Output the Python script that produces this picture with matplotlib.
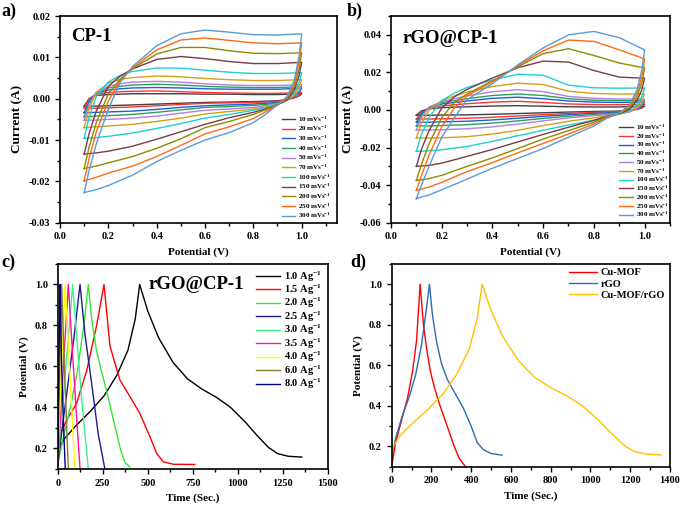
import matplotlib
matplotlib.use('Agg')
import matplotlib.pyplot as plt
from matplotlib.ticker import MultipleLocator, FormatStrFormatter

plt.rcParams['font.family'] = 'serif'
plt.rcParams['font.serif'] = ['Liberation Serif', 'DejaVu Serif']
plt.rcParams['font.weight'] = 'bold'
plt.rcParams['axes.labelweight'] = 'bold'
plt.rcParams['mathtext.fontset'] = 'custom'
plt.rcParams['mathtext.rm'] = 'Liberation Serif:bold'
plt.rcParams['mathtext.it'] = 'Liberation Serif:bold'
plt.rcParams['mathtext.bf'] = 'Liberation Serif:bold'
plt.rcParams['axes.unicode_minus'] = False

# ---------------- CV data (panels a, b) ----------------
scan_rates = [10, 20, 30, 40, 50, 70, 100, 150, 200, 250, 300]
cv_colors = ['#404040', '#ff3333', '#1f5fd6', '#2ca05a', '#b57ee0', '#d4a017',
             '#1fd0d0', '#7a3b4a', '#8c8c00', '#ff6a13', '#5b9bd5']

# forward (anodic) sweep potentials and backward (cathodic) sweep potentials
v_fwd = [0.1, 0.12, 0.15, 0.2, 0.25, 0.3, 0.4, 0.5, 0.6, 0.7, 0.8, 0.9, 1.0]
v_back = [1.0, 0.99, 0.97, 0.94, 0.9, 0.85, 0.8, 0.7, 0.6, 0.5, 0.4, 0.3, 0.2, 0.15, 0.1]

# CP-1, current (A)
cp1_fwd = [
    [-0.0018, 0.0000, 0.0008, 0.0010, 0.0011, 0.0012, 0.0012, 0.0012, 0.0011, 0.0011, 0.0010, 0.0010, 0.0012],
    [-0.0023, 0.0000, 0.0011, 0.0015, 0.0017, 0.0018, 0.0019, 0.0017, 0.0015, 0.0014, 0.0013, 0.0013, 0.0015],
    [-0.0034, -0.0005, 0.0013, 0.0021, 0.0024, 0.0026, 0.0027, 0.0026, 0.0024, 0.0023, 0.0023, 0.0023, 0.0025],
    [-0.0044, -0.0010, 0.0015, 0.0026, 0.0030, 0.0033, 0.0035, 0.0033, 0.0030, 0.0028, 0.0027, 0.0027, 0.0029],
    [-0.0052, -0.0015, 0.0015, 0.0030, 0.0036, 0.0040, 0.0042, 0.0040, 0.0036, 0.0033, 0.0032, 0.0032, 0.0034],
    [-0.0070, -0.0025, 0.0015, 0.0038, 0.0047, 0.0051, 0.0055, 0.0053, 0.0049, 0.0046, 0.0044, 0.0044, 0.0046],
    [-0.0096, -0.0045, 0.0005, 0.0040, 0.0057, 0.0066, 0.0074, 0.0074, 0.0069, 0.0064, 0.0061, 0.0061, 0.0063],
    [-0.0134, -0.0085, -0.0030, 0.0030, 0.0055, 0.0072, 0.0095, 0.0102, 0.0097, 0.0090, 0.0085, 0.0085, 0.0088],
    [-0.0169, -0.0118, -0.0058, 0.0012, 0.0048, 0.0073, 0.0108, 0.0124, 0.0124, 0.0116, 0.0110, 0.0109, 0.0111],
    [-0.0199, -0.0145, -0.0080, -0.0005, 0.0045, 0.0075, 0.0118, 0.0142, 0.0147, 0.0141, 0.0135, 0.0133, 0.0135],
    [-0.0227, -0.0175, -0.0110, -0.0025, 0.0040, 0.0078, 0.0128, 0.0157, 0.0166, 0.0161, 0.0155, 0.0154, 0.0157],
]
cp1_back = [
    [0.0012, 0.0007, 0.0002, -0.0002, -0.0005, -0.0006, -0.0007, -0.0008, -0.0009, -0.0011, -0.0013, -0.0015, -0.0017, -0.0018, -0.0018],
    [0.0015, 0.0009, 0.0003, -0.0002, -0.0006, -0.0008, -0.0009, -0.0010, -0.0011, -0.0014, -0.0017, -0.0020, -0.0022, -0.0023, -0.0023],
    [0.0025, 0.0016, 0.0006, -0.0003, -0.0009, -0.0011, -0.0013, -0.0015, -0.0017, -0.0021, -0.0026, -0.0030, -0.0032, -0.0033, -0.0034],
    [0.0029, 0.0018, 0.0007, -0.0003, -0.0011, -0.0014, -0.0016, -0.0019, -0.0021, -0.0027, -0.0033, -0.0038, -0.0041, -0.0042, -0.0044],
    [0.0034, 0.0021, 0.0008, -0.0003, -0.0012, -0.0017, -0.0021, -0.0025, -0.0028, -0.0035, -0.0042, -0.0047, -0.0050, -0.0052, -0.0052],
    [0.0046, 0.0029, 0.0011, -0.0004, -0.0013, -0.0020, -0.0025, -0.0031, -0.0037, -0.0047, -0.0055, -0.0062, -0.0066, -0.0068, -0.0070],
    [0.0063, 0.0040, 0.0015, -0.0003, -0.0014, -0.0022, -0.0028, -0.0038, -0.0047, -0.0060, -0.0072, -0.0083, -0.0091, -0.0094, -0.0096],
    [0.0088, 0.0057, 0.0022, -0.0003, -0.0015, -0.0025, -0.0033, -0.0046, -0.0062, -0.0080, -0.0098, -0.0115, -0.0127, -0.0131, -0.0134],
    [0.0111, 0.0073, 0.0029, 0.0000, -0.0015, -0.0027, -0.0038, -0.0055, -0.0070, -0.0097, -0.0120, -0.0140, -0.0155, -0.0163, -0.0169],
    [0.0135, 0.0090, 0.0038, 0.0003, -0.0015, -0.0032, -0.0048, -0.0068, -0.0085, -0.0113, -0.0140, -0.0163, -0.0180, -0.0190, -0.0199],
    [0.0157, 0.0105, 0.0045, 0.0006, -0.0015, -0.0038, -0.0058, -0.0082, -0.0100, -0.0125, -0.0152, -0.0185, -0.0210, -0.0220, -0.0227],
]

# rGO@CP-1, current (A)
rgo_fwd = [
    [-0.0028, -0.0005, 0.0006, 0.0012, 0.0015, 0.0017, 0.0021, 0.0023, 0.0020, 0.0017, 0.0016, 0.0016, 0.0020],
    [-0.0048, -0.0012, 0.0010, 0.0022, 0.0028, 0.0033, 0.0042, 0.0046, 0.0040, 0.0032, 0.0029, 0.0028, 0.0030],
    [-0.0065, -0.0020, 0.0012, 0.0032, 0.0040, 0.0048, 0.0062, 0.0068, 0.0060, 0.0048, 0.0042, 0.0040, 0.0042],
    [-0.0085, -0.0030, 0.0015, 0.0040, 0.0050, 0.0060, 0.0077, 0.0085, 0.0077, 0.0060, 0.0052, 0.0050, 0.0050],
    [-0.0107, -0.0040, 0.0015, 0.0045, 0.0060, 0.0075, 0.0097, 0.0108, 0.0098, 0.0072, 0.0062, 0.0058, 0.0058],
    [-0.0149, -0.0070, 0.0000, 0.0050, 0.0075, 0.0095, 0.0125, 0.0143, 0.0135, 0.0100, 0.0088, 0.0085, 0.0085],
    [-0.0220, -0.0130, -0.0040, 0.0050, 0.0090, 0.0120, 0.0160, 0.0190, 0.0185, 0.0132, 0.0118, 0.0116, 0.0117],
    [-0.0300, -0.0210, -0.0110, 0.0010, 0.0070, 0.0110, 0.0170, 0.0225, 0.0260, 0.0255, 0.0210, 0.0175, 0.0169],
    [-0.0375, -0.0290, -0.0180, -0.0040, 0.0040, 0.0085, 0.0155, 0.0230, 0.0300, 0.0326, 0.0290, 0.0250, 0.0224],
    [-0.0428, -0.0350, -0.0240, -0.0090, 0.0010, 0.0075, 0.0150, 0.0235, 0.0315, 0.0372, 0.0365, 0.0320, 0.0272],
    [-0.0472, -0.0400, -0.0300, -0.0145, -0.0040, 0.0055, 0.0140, 0.0240, 0.0330, 0.0400, 0.0418, 0.0385, 0.0320],
]
rgo_back = [
    [0.0020, 0.0011, 0.0003, -0.0003, -0.0006, -0.0007, -0.0008, -0.0011, -0.0015, -0.0019, -0.0023, -0.0026, -0.0027, -0.0028, -0.0028],
    [0.0030, 0.0017, 0.0005, -0.0004, -0.0008, -0.0010, -0.0013, -0.0018, -0.0025, -0.0032, -0.0039, -0.0044, -0.0047, -0.0048, -0.0048],
    [0.0042, 0.0024, 0.0007, -0.0006, -0.0012, -0.0015, -0.0018, -0.0025, -0.0034, -0.0044, -0.0053, -0.0060, -0.0063, -0.0065, -0.0065],
    [0.0050, 0.0029, 0.0008, -0.0008, -0.0016, -0.0020, -0.0024, -0.0033, -0.0045, -0.0058, -0.0070, -0.0078, -0.0083, -0.0085, -0.0085],
    [0.0058, 0.0033, 0.0008, -0.0011, -0.0020, -0.0025, -0.0030, -0.0042, -0.0058, -0.0075, -0.0090, -0.0100, -0.0105, -0.0107, -0.0107],
    [0.0085, 0.0052, 0.0017, -0.0009, -0.0023, -0.0030, -0.0042, -0.0060, -0.0083, -0.0108, -0.0128, -0.0142, -0.0148, -0.0149, -0.0149],
    [0.0117, 0.0074, 0.0029, -0.0004, -0.0022, -0.0035, -0.0055, -0.0080, -0.0108, -0.0137, -0.0167, -0.0194, -0.0212, -0.0217, -0.0220],
    [0.0169, 0.0111, 0.0049, 0.0004, -0.0021, -0.0035, -0.0055, -0.0092, -0.0130, -0.0170, -0.0210, -0.0247, -0.0283, -0.0295, -0.0300],
    [0.0224, 0.0149, 0.0070, 0.0012, -0.0020, -0.0038, -0.0065, -0.0110, -0.0155, -0.0205, -0.0255, -0.0300, -0.0348, -0.0365, -0.0375],
    [0.0272, 0.0180, 0.0088, 0.0020, -0.0019, -0.0040, -0.0075, -0.0128, -0.0178, -0.0228, -0.0280, -0.0328, -0.0385, -0.0410, -0.0428],
    [0.0320, 0.0217, 0.0106, 0.0027, -0.0018, -0.0045, -0.0085, -0.0145, -0.0205, -0.0258, -0.0310, -0.0368, -0.0425, -0.0452, -0.0472],
]

# ---------------- GCD data (panel c) ----------------
densities = ['1.0', '1.5', '2.0', '2.5', '3.0', '3.5', '4.0', '6.0', '8.0']
gcd_colors = ['#000000', '#ff0000', '#33e633', '#1c1c8f', '#3cf08a', '#ff1493',
              '#ffff00', '#8b7a2b', '#000080']
gcd_time = [
    [0, 8, 40, 100, 180, 260, 330, 390, 430, 455, 500, 560, 640, 720, 800, 880, 960,
     1040, 1110, 1170, 1220, 1280, 1355],
    [0, 20, 50, 105, 161, 216, 257, 290, 345, 401, 456, 512, 549, 586, 641, 761],
    [0, 30, 70, 110, 145, 170, 190, 215, 245, 280, 320, 350, 375, 400],
    [0, 25, 55, 90, 124, 151, 188, 225, 262],
    [0, 20, 45, 65, 83, 105, 135, 170],
    [0, 15, 35, 59, 80, 105, 124],
    [0, 12, 27, 41, 60, 80, 96],
    [0, 8, 16, 22, 35, 50, 59],
    [0, 5, 10, 13, 22, 33, 42],
]
gcd_volt = [
    [0.15, 0.2, 0.25, 0.31, 0.38, 0.46, 0.56, 0.68, 0.83, 1.0, 0.87, 0.74, 0.62, 0.54,
     0.49, 0.45, 0.40, 0.33, 0.26, 0.205, 0.175, 0.162, 0.158],
    [0.12, 0.28, 0.34, 0.42, 0.58, 0.80, 1.0, 0.70, 0.535, 0.453, 0.371, 0.257, 0.176,
     0.135, 0.123, 0.122],
    [0.12, 0.25, 0.40, 0.58, 0.80, 1.0, 0.82, 0.68, 0.57, 0.45, 0.30, 0.19, 0.13, 0.11],
    [0.12, 0.30, 0.50, 0.74, 1.0, 0.76, 0.52, 0.27, 0.10],
    [0.12, 0.35, 0.60, 0.80, 1.0, 0.75, 0.42, 0.10],
    [0.12, 0.35, 0.65, 1.0, 0.70, 0.35, 0.10],
    [0.15, 0.40, 0.70, 1.0, 0.70, 0.35, 0.10],
    [0.15, 0.45, 0.75, 1.0, 0.65, 0.30, 0.10],
    [0.20, 0.50, 0.80, 1.0, 0.60, 0.30, 0.10],
]

# ---------------- GCD comparison (panel d) ----------------
cmp_labels = ['Cu-MOF', 'rGO', 'Cu-MOF/rGO']
cmp_colors = ['#ff0000', '#2e6bb0', '#ffc000']
cumof_t = [0, 20, 50, 80, 105, 125, 143, 160, 176, 195, 215, 240, 265, 290, 315, 340, 372]
cumof_v = [0.1, 0.22, 0.33, 0.44, 0.57, 0.72, 1.0, 0.80, 0.68, 0.57, 0.49, 0.41, 0.34,
           0.27, 0.20, 0.14, 0.10]
rgo_t = [0, 20, 50, 90, 120, 150, 175, 190, 205, 225, 250, 280, 320, 360, 400, 430, 460,
         500, 555]
rgo_v = [0.15, 0.24, 0.34, 0.45, 0.55, 0.70, 0.88, 1.0, 0.85, 0.72, 0.61, 0.53, 0.46,
         0.39, 0.30, 0.22, 0.185, 0.165, 0.157]
comp_t = gcd_time[0]
comp_v = gcd_volt[0]

fig = plt.figure(figsize=(6.82, 5.07), dpi=100)
ax_a = fig.add_axes([0.088, 0.5607, 0.4057, 0.4077])
ax_b = fig.add_axes([0.5733, 0.5607, 0.409, 0.4077])
ax_c = fig.add_axes([0.0846, 0.075, 0.3963, 0.4043])
ax_d = fig.add_axes([0.5743, 0.0795, 0.408, 0.40])


def style(ax):
    for s in ax.spines.values():
        s.set_linewidth(1.2)
    ax.tick_params(which='both', direction='out', top=False, right=False,
                   labelsize=7.5, width=1.0)
    ax.tick_params(which='major', length=3.5)
    ax.tick_params(which='minor', length=2)


for ax, fwd, back in [(ax_a, cp1_fwd, cp1_back), (ax_b, rgo_fwd, rgo_back)]:
    for i, rate in enumerate(scan_rates):
        ax.plot(v_fwd + v_back, fwd[i] + back[i], color=cv_colors[i], lw=1.0,
                label=str(rate) + r' mVs$^{-1}$')
    ax.set_xlim(0.0, 1.1)
    ax.xaxis.set_major_locator(MultipleLocator(0.2))
    ax.xaxis.set_minor_locator(MultipleLocator(0.1))
    ax.xaxis.set_major_formatter(FormatStrFormatter('%.1f'))
    ax.yaxis.set_major_formatter(FormatStrFormatter('%.2f'))
    ax.set_xlabel('Potential (V)', fontsize=8)
    ax.set_ylabel('Current (A)', fontsize=9.5)
    style(ax)

ax_a.set_xlim(0.0, 1.145)
ax_a.set_ylim(-0.03, 0.02)
ax_a.yaxis.set_major_locator(MultipleLocator(0.01))
ax_a.yaxis.set_minor_locator(MultipleLocator(0.005))
ax_a.legend(loc='lower right', bbox_to_anchor=(0.985, 0.005), frameon=False,
            fontsize=5, labelspacing=0.05, handlelength=1.9, handletextpad=0.4,
            borderaxespad=0, borderpad=0.2)
ax_a.text(0.04, 0.94, 'CP-1', transform=ax_a.transAxes, fontsize=13.5,
          fontweight='bold', va='top')

ax_b.set_ylim(-0.06, 0.05)
ax_b.yaxis.set_major_locator(MultipleLocator(0.02))
ax_b.yaxis.set_minor_locator(MultipleLocator(0.01))
ax_b.legend(loc='lower right', bbox_to_anchor=(1.0, 0.01), frameon=False,
            fontsize=5, labelspacing=-0.08, handlelength=2.0, handletextpad=0.4,
            borderaxespad=0, borderpad=0.2)
ax_b.text(0.04, 0.93, 'rGO@CP-1', transform=ax_b.transAxes, fontsize=13.5,
          fontweight='bold', va='top')

for i, d in enumerate(densities):
    ax_c.plot(gcd_time[i], gcd_volt[i], color=gcd_colors[i], lw=1.0,
              label=d + r' Ag$^{-1}$')
ax_c.set_xlim(0, 1500)
ax_c.set_ylim(0.1, 1.1)
ax_c.xaxis.set_major_locator(MultipleLocator(250))
ax_c.xaxis.set_minor_locator(MultipleLocator(125))
ax_c.yaxis.set_major_locator(MultipleLocator(0.2))
ax_c.yaxis.set_minor_locator(MultipleLocator(0.1))
ax_c.yaxis.set_major_formatter(FormatStrFormatter('%.1f'))
ax_c.set_xlabel('Time (Sec.)', fontsize=8)
ax_c.set_ylabel('Potential (V)', fontsize=8)
ax_c.legend(loc='upper right', bbox_to_anchor=(0.985, 0.985), frameon=False,
            fontsize=7.5, labelspacing=-0.09, handlelength=2.3, handletextpad=0.4,
            borderaxespad=0, borderpad=0.2)
ax_c.text(0.335, 0.94, 'rGO@CP-1', transform=ax_c.transAxes, fontsize=13.5,
          fontweight='bold', va='top')
style(ax_c)

ax_d.plot(cumof_t, cumof_v, color=cmp_colors[0], lw=1.0, label=cmp_labels[0])
ax_d.plot(rgo_t, rgo_v, color=cmp_colors[1], lw=1.0, label=cmp_labels[1])
ax_d.plot(comp_t, comp_v, color=cmp_colors[2], lw=1.0, label=cmp_labels[2])
ax_d.set_xlim(0, 1400)
ax_d.set_ylim(0.1, 1.1)
ax_d.xaxis.set_major_locator(MultipleLocator(200))
ax_d.xaxis.set_minor_locator(MultipleLocator(100))
ax_d.yaxis.set_major_locator(MultipleLocator(0.2))
ax_d.yaxis.set_minor_locator(MultipleLocator(0.1))
ax_d.yaxis.set_major_formatter(FormatStrFormatter('%.1f'))
ax_d.set_xlabel('Time (Sec.)', fontsize=8)
ax_d.set_ylabel('Potential (V)', fontsize=8)
ax_d.legend(loc='upper right', bbox_to_anchor=(0.99, 0.99), frameon=False,
            fontsize=7.5, labelspacing=0.2, handlelength=2.6, handletextpad=0.4,
            borderaxespad=0, borderpad=0.2)
style(ax_d)

for txt, x, y in [('a)', 0.002, 0.995), ('b)', 0.508, 0.995), ('c)', 0.002, 0.5),
                  ('d)', 0.513, 0.5)]:
    fig.text(x, y, txt, fontsize=13, fontweight='bold', va='top')

fig.savefig('out.png', dpi=100)
